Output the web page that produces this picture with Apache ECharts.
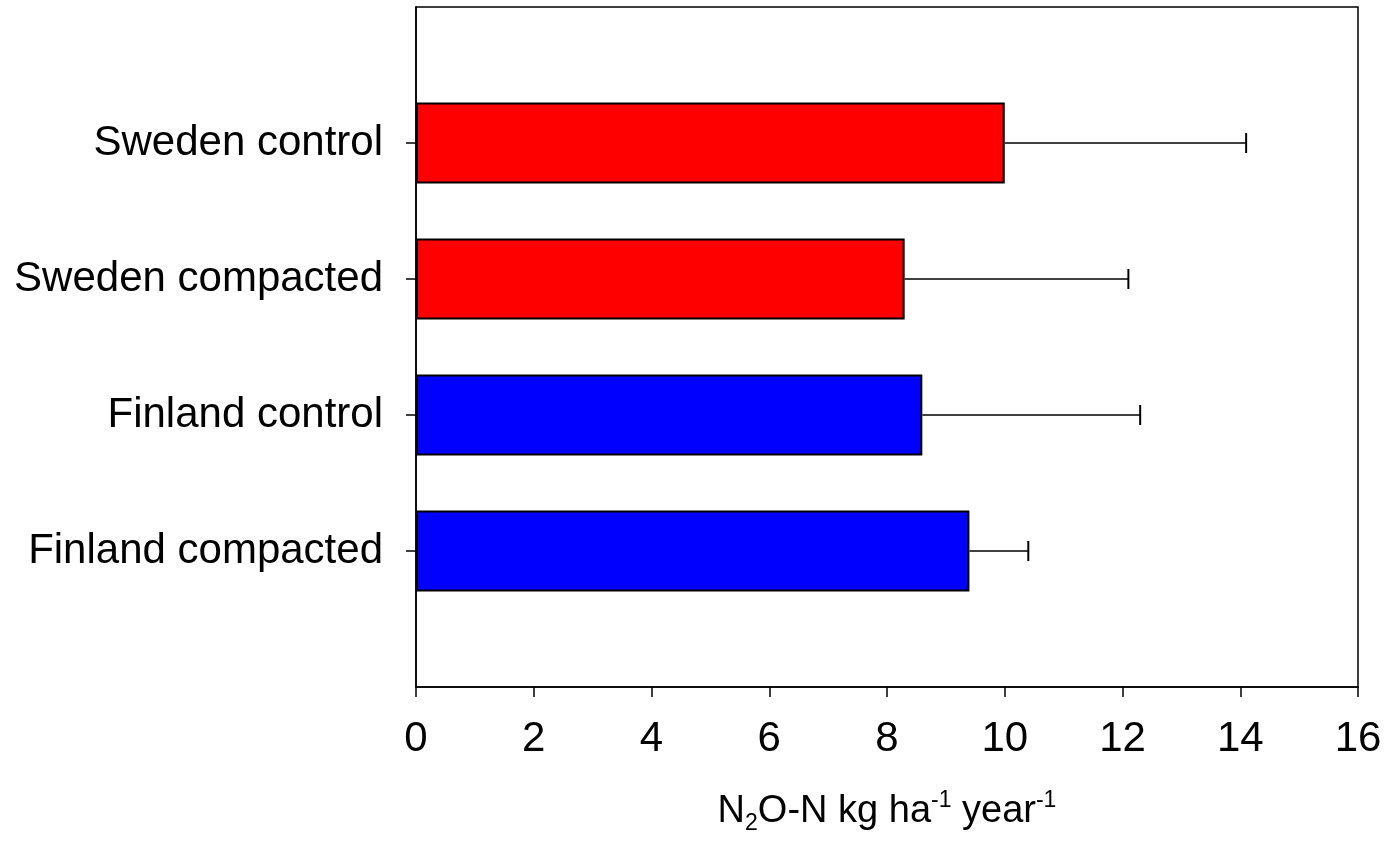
<!DOCTYPE html>
<html>
<head>
<meta charset="utf-8">
<script src="https://cdn.jsdelivr.net/npm/echarts@6/dist/echarts.min.js"></script>
<style>html,body{margin:0;padding:0;background:#fff}#c{width:1391px;height:851px}</style>
</head>
<body>
<div id="c"></div>
<script>
// Data (bottom to top)
var categories = ['Finland compacted', 'Finland control', 'Sweden compacted', 'Sweden control'];
var means = [9.4, 8.6, 8.3, 10.0];
var errUpper = [10.4, 12.3, 12.1, 14.1];
var barColors = ['#0000FF', '#0000FF', '#FF0000', '#FF0000'];
var xTicks = [0, 2, 4, 6, 8, 10, 12, 14, 16];

// padded category axis: empty slot at the bottom and top edges
var axisCats = [''].concat(categories).concat(['']);
var barData = ['-'].concat(means.map(function (v, i) {
  return { value: v, itemStyle: { color: barColors[i] } };
})).concat(['-']);
var errData = means.map(function (v, i) { return [v, errUpper[i], i + 1]; });

var font = 'Liberation Sans, Arial, sans-serif';
var chart = echarts.init(document.getElementById('c'));
chart.setOption({
  animation: false,
  backgroundColor: '#fff',
  grid: { left: 416, right: 33, top: 7, bottom: 164, show: true, borderColor: '#000', borderWidth: 1.5, backgroundColor: 'transparent' },
  xAxis: {
    type: 'value', min: xTicks[0], max: xTicks[xTicks.length - 1], interval: 2,
    axisLine: { show: true, lineStyle: { color: '#000', width: 1.5 } },
    axisTick: { show: true, length: 10, lineStyle: { color: '#000', width: 1.5 } },
    splitLine: { show: false },
    axisLabel: { color: '#000', fontSize: 42, fontFamily: font, margin: 31 },
    name: '{b|N}{sub|2}{b|O-N kg ha}{sup|-1}{b| year}{sup|-1}',
    nameLocation: 'middle', nameGap: 102,
    nameTextStyle: {
      rich: {
        b: { fontSize: 38, fontFamily: font, color: '#000', lineHeight: 46, verticalAlign: 'middle' },
        sub: { fontSize: 23, fontFamily: font, color: '#000', lineHeight: 31, verticalAlign: 'bottom' },
        sup: { fontSize: 23, fontFamily: font, color: '#000', lineHeight: 25, verticalAlign: 'top' }
      }
    }
  },
  yAxis: {
    type: 'category', data: axisCats, boundaryGap: false,
    axisLine: { show: true, lineStyle: { color: '#000', width: 1.5 } },
    axisTick: { show: true, length: 10, lineStyle: { color: '#000', width: 1.5 },
      interval: function (idx) { return idx > 0 && idx < axisCats.length - 1; } },
    splitLine: { show: false },
    axisLabel: { color: '#000', fontSize: 42, fontFamily: font, margin: 33 }
  },
  series: [
    {
      type: 'bar', data: barData, barWidth: 81,
      itemStyle: { borderColor: '#000', borderWidth: 2 }
    },
    {
      type: 'custom', data: errData, z: 1,
      encode: { x: [0, 1], y: 2 },
      renderItem: function (params, api) {
        var y = api.value(2);
        var p0 = api.coord([api.value(0), y]);
        var p1 = api.coord([api.value(1), y]);
        return {
          type: 'group',
          children: [
            { type: 'line', shape: { x1: p0[0], y1: p0[1], x2: p1[0], y2: p1[1] }, style: { stroke: '#000', lineWidth: 1.5 } },
            { type: 'line', shape: { x1: p1[0], y1: p1[1] - 10, x2: p1[0], y2: p1[1] + 10 }, style: { stroke: '#000', lineWidth: 2 } }
          ]
        };
      }
    }
  ]
});
</script>
</body>
</html>
